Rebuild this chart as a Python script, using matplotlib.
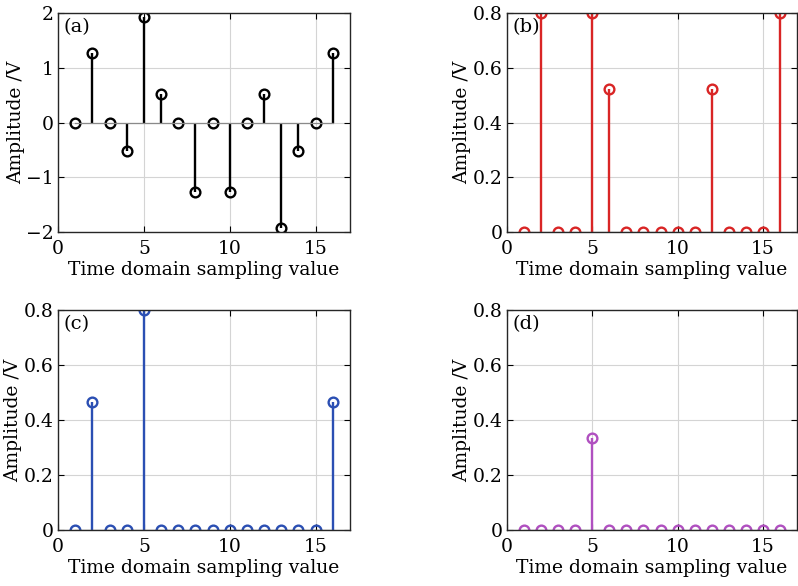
"""plot.py - stem plots of a sampled signal and three spectra"""
import numpy as np
import matplotlib
matplotlib.use("Agg")
import matplotlib.pyplot as plt

n = np.arange(1, 17)

sig_a = [0, 1.27, 0, -0.52, 1.93, 0.52, 0, -1.27, 0, -1.27, 0, 0.52, -1.93, -0.52, 0, 1.27]
amp_b = [0, 0.80, 0, 0, 0.80, 0.524, 0, 0, 0, 0, 0, 0.524, 0, 0, 0, 0.80]
amp_c = [0, 0.465, 0, 0, 0.80, 0, 0, 0, 0, 0, 0, 0, 0, 0, 0, 0.465]
amp_d = [0, 0, 0, 0, 0.336, 0, 0, 0, 0, 0, 0, 0, 0, 0, 0, 0]

panels = [
    ("(a)", sig_a, "black",   (-2, 2),   [-2, -1, 0, 1, 2]),
    ("(b)", amp_b, "#d92525", (0, 0.8), [0, 0.2, 0.4, 0.6, 0.8]),
    ("(c)", amp_c, "#2b4fb3", (0, 0.8), [0, 0.2, 0.4, 0.6, 0.8]),
    ("(d)", amp_d, "#b050c0", (0, 0.8), [0, 0.2, 0.4, 0.6, 0.8]),
]

# axes boxes in pixels (left, top, right, bottom) of the 798x586 canvas
boxes = [(58, 13, 350, 232), (507, 13, 797, 232),
         (58, 310, 350, 530), (507, 310, 797, 530)]

W, H = 798, 586
plt.rcParams["font.family"] = "DejaVu Serif"
fig = plt.figure(figsize=(W / 100, H / 100), dpi=100)


def fmt(v):
    if v == 0:
        return "0"
    if float(v).is_integer():
        return f"{int(v)}".replace("-", "\u2212")
    return f"{v:g}"


for (tag, vals, col, ylim, yt), (l, t, r, b) in zip(panels, boxes):
    ax = fig.add_axes([l / W, 1 - b / H, (r - l) / W, (b - t) / H])
    ax.grid(True, color="#d4d4d4", lw=0.8)
    ax.set_axisbelow(True)
    ml, sl, bl = ax.stem(n, vals, linefmt="-", markerfmt="o", basefmt="-")
    plt.setp(sl, color=col, lw=1.7)
    plt.setp(ml, markerfacecolor="none", markeredgecolor=col, markersize=7, mew=1.7)
    plt.setp(bl, color="#8a8a8a", lw=0.9)
    ax.set_xlim(0, 17)
    ax.set_ylim(*ylim)
    ax.set_xticks([0, 5, 10, 15])
    ax.set_yticks(yt)
    ax.set_yticklabels([fmt(v) for v in yt])
    ax.tick_params(direction="in", top=True, right=True, labelsize=13.5, length=4,
                   width=0.8)
    ax.tick_params(axis="x", pad=6)
    ax.tick_params(axis="y", pad=3)
    for s in ax.spines.values():
        s.set_linewidth(1.0)
        s.set_color("#262626")
    ax.set_xlabel("Time domain sampling value", fontsize=13.5, labelpad=2)
    ax.set_ylabel("Amplitude /V", fontsize=13.5, labelpad=1)
    ax.text(0.02, 0.975, tag, transform=ax.transAxes, fontsize=14, va="top", ha="left")

fig.savefig("out.png", dpi=100)
